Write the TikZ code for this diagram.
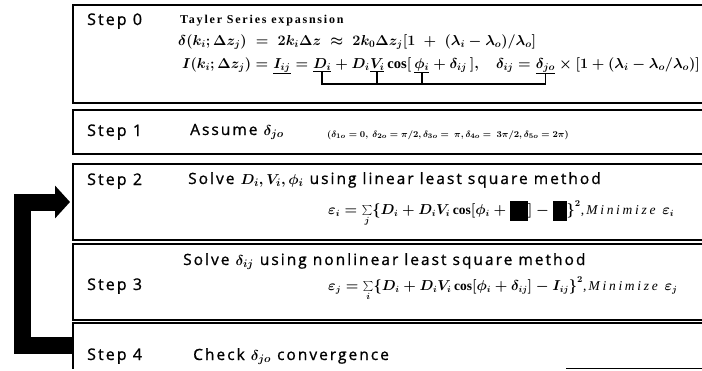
\documentclass[tikz,border=0pt]{standalone}
\usepackage{fontspec}
\setmainfont{Liberation Serif}
\newfontfamily\stepfont{Open Sans}[LetterSpace=13,FakeBold=1]
\newfontfamily\headfont{Liberation Serif}[LetterSpace=15]
\newfontfamily\minfont{Liberation Serif}[LetterSpace=20]
\usetikzlibrary{arrows.meta}
\newcommand{\redblock}[1]{\rule[-7pt]{#1}{20pt}}
\begin{document}
\begin{tikzpicture}[x=1pt,y=-1pt,line join=miter,
  frame/.style={minimum width=650pt,inner sep=0pt,outer sep=0pt,anchor=north west},
  rulel/.style={line width=1.3pt},
  lbl/.style={anchor=base west,inner sep=0pt,font=\stepfont\fontsize{16}{18}\selectfont},
  ttl/.style={anchor=base west,inner sep=0pt,font=\stepfont\fontsize{15.5}{18}\selectfont\boldmath},
  hd/.style={anchor=base west,inner sep=0pt,font=\headfont\bfseries\fontsize{12}{14}\selectfont},
  eqz/.style={anchor=base west,inner sep=0pt,font=\fontsize{14.5}{16}\selectfont\boldmath},
  eq/.style={anchor=base west,inner sep=0pt,font=\fontsize{13.5}{15}\selectfont\boldmath},
  smalleq/.style={anchor=base west,inner sep=0pt,font=\fontsize{9.5}{11}\selectfont\boldmath},
  brk/.style={line width=1.6pt},
  loopback/.style={line width=17pt,-{Triangle[length=15pt,width=32pt]},shorten >=3pt}]
\useasboundingbox (0,0) rectangle (702,370);
% boxes
\node[frame,minimum height=98pt] (b0) at (73,5) {};
\node[frame,minimum height=44pt] (b1) at (73,110) {};
\node[frame,minimum height=76pt] (b2) at (73,164) {};
\node[frame,minimum height=76pt] (b3) at (73,244) {};
\node[frame,minimum height=45.5pt] (b4) at (73,323) {};
\foreach \b in {b0,b1,b2,b3}
  \draw[rulel] (\b.north east) -- (\b.north west) -- (\b.south west) -- (\b.south east);
\draw[rulel] (b4.north east) -- (b4.north west) -- (b4.south west);
\draw[rulel] (b4.south east) -- ++(-157,0);
% step labels
\node[lbl] (s0) at (87,25) {Step 0};
\node[lbl] (s1) at (87,136) {Step 1};
\node[lbl] (s2) at (87,185) {Step 2};
\node[lbl] (s3) at (87,290) {Step 3};
\node[lbl] (s4) at (87,360) {Step 4};
% step 0
\node[hd] (t0) at (180,23) {Tayler Series expasnsion};
\node[eqz] (e1) at (178,45) {$\delta(k_i;\Delta z_j)\;=\;2k_i\Delta z\;\approx\;2k_0\Delta z_j\bigl[1\;+\;(\lambda_i-\lambda_o)/\lambda_o\bigr]$};
\node[eqz] (l3a) at (182,68) {$I(k_i;\Delta z_j)={}$};
\node[eqz] (l3Iij) at (l3a.base east) {$\underline{I_{ij}}$};
\node[eqz] (l3b) at (l3Iij.base east) {${}={}$};
\node[eqz] (l3D) at (l3b.base east) {$\underline{D_i}$};
\node[eqz] (l3c) at (l3D.base east) {${}+D_i$};
\node[eqz] (l3V) at (l3c.base east) {$\underline{V_i}$};
\node[eqz] (l3d) at (l3V.base east) {$\,\cos\bigl[\,$};
\node[eqz] (l3phi) at (l3d.base east) {$\underline{\phi_i}$};
\node[eqz] (l3e) at (l3phi.base east) {${}+\delta_{ij}\,\bigr],\quad\delta_{ij}={}$};
\node[eqz] (l3djo) at (l3e.base east) {$\underline{\delta_{jo}}$};
\node[eqz] (l3f) at (l3djo.base east) {${}\times\bigl[1+(\lambda_i-\lambda_o/\lambda_o)\bigr]$};
\coordinate (bl) at (0,84);
\draw[brk] (l3D.south) -- (l3D.south |- bl) -- (l3djo.south |- bl) -- (l3djo.south);
\draw[brk] (l3V.south) -- (l3V.south |- bl);
\draw[brk] (l3phi.south) -- (l3phi.south |- bl);
% step 1
\node[ttl] (a1) at (190,135) {Assume $\delta_{jo}$};
\node[smalleq] (a1p) at (327,137) {$(\delta_{1o}=0,\ \delta_{2o}=\pi/2,\delta_{3o}=\ \pi,\delta_{4o}=\ 3\pi/2,\delta_{5o}=2\pi)$};
% step 2
\node[ttl] (a2) at (188,184) {Solve $D_i,V_i,\phi_i$ using linear least square method};
\node[eq] (f2) at (328,214) {$\varepsilon_i=\sum\limits_j\bigl\{D_i+D_iV_i\cos\bigl[\phi_i+\redblock{18pt}\bigr]-\redblock{14pt}\bigr\}^2$,\,{\minfont\itshape Minimize}\ \ $\varepsilon_i$};
% step 3
\node[ttl] (a3) at (183,265) {Solve $\delta_{ij}$ using nonlinear least square method};
\node[eq] (f3) at (328,290) {$\varepsilon_j=\sum\limits_i\bigl\{D_i+D_iV_i\cos\bigl[\phi_i+\delta_{ij}\bigr]-I_{ij}\bigr\}^2$,\,{\minfont\itshape Minimize}\ \ $\varepsilon_j$};
% step 4
\node[ttl] (a4) at (193,360) {Check $\delta_{jo}$ convergence};
% feedback arrow
\draw[loopback] (b4.west) -- ++(-51,0) |- (b2.west);
\end{tikzpicture}
\end{document}
